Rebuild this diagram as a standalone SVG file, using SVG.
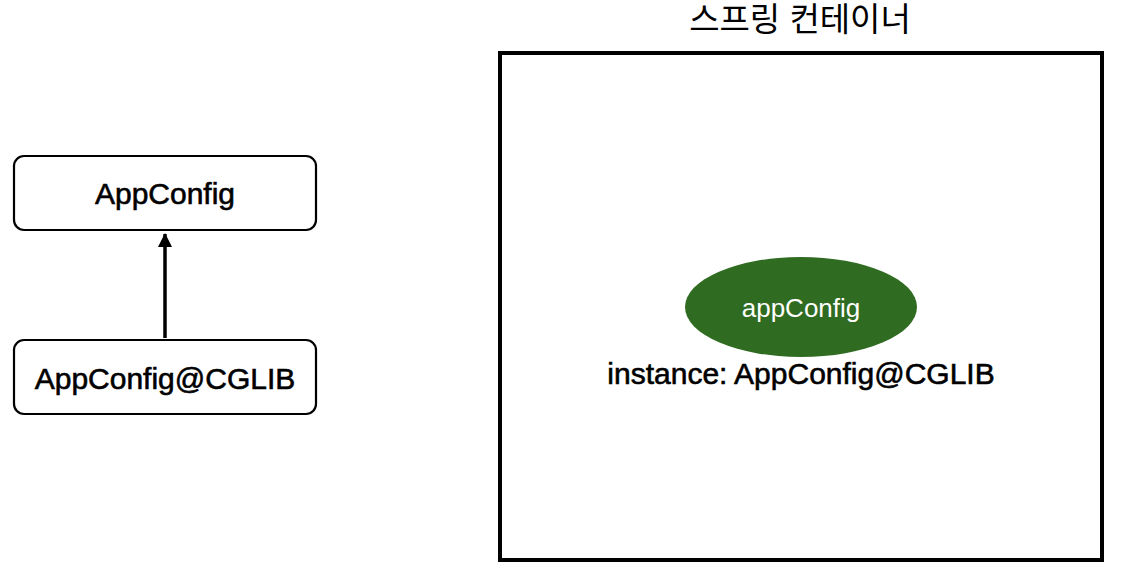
<svg xmlns="http://www.w3.org/2000/svg" width="1128" height="584" viewBox="0 0 1128 584">
<style>
.box{fill:#fff;stroke:#000;stroke-width:2.2}
.lbl{font-family:"Liberation Sans",Arial,sans-serif;font-size:30px;fill:#000;stroke:#000;stroke-width:0.6;text-anchor:middle}
.wl{font-family:"Liberation Sans",Arial,sans-serif;font-size:26px;fill:#fff;text-anchor:middle}
.title{font-family:"Liberation Sans","Noto Sans CJK KR",sans-serif;font-size:33px;fill:#000;text-anchor:middle}
</style>
<defs>
<marker id="ah" markerWidth="16" markerHeight="16" refX="13" refY="7" orient="auto" markerUnits="userSpaceOnUse">
<path d="M0,0 L14,7 L0,14 Z" fill="#000"/>
</marker>
</defs>
<rect fill="#fff" width="1128" height="584"/>
<text class="title" x="800" y="31">스프링 컨테이너</text>
<g id="container">
<rect x="500" y="53" width="602" height="507" fill="none" stroke="#000" stroke-width="4"/>
</g>
<g id="appconfig">
<rect class="box" x="14" y="156" width="302" height="74" rx="10"/>
<text class="lbl" x="165" y="204">AppConfig</text>
</g>
<g id="appconfig-cglib">
<rect class="box" x="14" y="340" width="302" height="74" rx="10"/>
<text class="lbl" x="165" y="389">AppConfig@CGLIB</text>
</g>
<g id="bean">
<ellipse cx="801" cy="307" rx="116" ry="50" fill="#2f6b20"/>
<text class="wl" x="801" y="317">appConfig</text>
<text class="lbl" x="801" y="384">instance: AppConfig@CGLIB</text>
</g>
<g id="connectors">
<line x1="165" y1="338" x2="165" y2="234" stroke="#000" stroke-width="3.5" marker-end="url(#ah)"/>
</g>
</svg>
